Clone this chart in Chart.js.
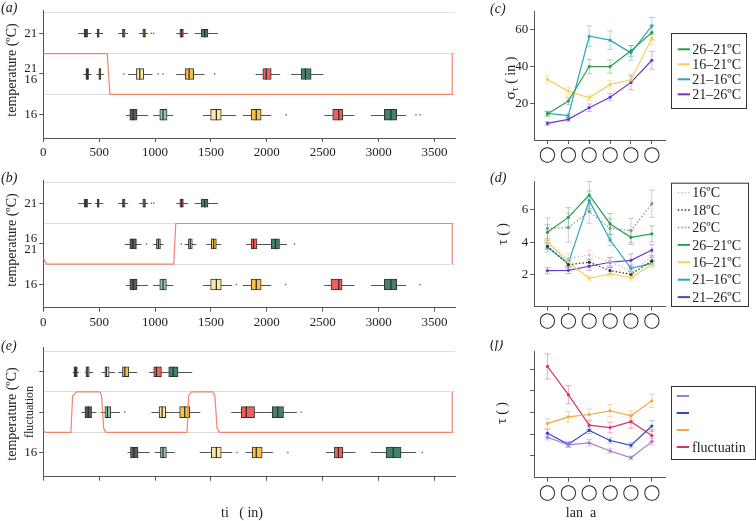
<!DOCTYPE html>
<html>
<head>
<meta charset="utf-8">
<script src="https://cdn.jsdelivr.net/npm/chart.js@4.4.1/dist/chart.umd.min.js"></script>
<style>
    body { margin: 0; background: #fff; }
    #wrap { position: relative; width: 756px; height: 521px; overflow: hidden; }
    canvas { position: absolute; }
</style>
</head>
<body>
<div id="wrap">
    <canvas id="pa" width="480" height="170" style="left:0;top:0"></canvas>
    <canvas id="pb" width="480" height="170" style="left:0;top:170px"></canvas>
    <canvas id="pe" width="480" height="181" style="left:0;top:340px"></canvas>
    <canvas id="pc" width="276" height="170" style="left:480px;top:0"></canvas>
    <canvas id="pd" width="276" height="170" style="left:480px;top:170px"></canvas>
    <canvas id="pf" width="276" height="181" style="left:480px;top:340px"></canvas>
</div>
<script>
// time axis and stage colours
const timeTicks = [0, 500, 1000, 1500, 2000, 2500, 3000, 3500];
const stageColors = ['#5b5b5b', '#8fcaa8', '#fbe6a2', '#f6c145', '#f25e5b', '#457f6d'];

// boxes: [whisker low, q1, median, q3, whisker high]
const aTop = [[312, 365, 381, 396, 431], [461, 482, 491, 500, 536], [670, 708, 720, 732, 759],
    [857, 890, 902, 914, 938], [1190, 1222, 1238, 1253, 1295], [1354, 1414, 1443, 1473, 1562]];
const aTopOut = [967, 988];
const aMid = [[357, 381, 393, 405, 431], [476, 497, 506, 515, 542], [759, 833, 863, 899, 976],
    [1190, 1271, 1304, 1345, 1443], [1899, 1964, 1994, 2039, 2119], [2217, 2307, 2345, 2396, 2506]];
const aMidOut = [720, 1027, 1071, 1533];
const aBot = [[738, 774, 804, 839, 937], [982, 1042, 1071, 1107, 1161], [1429, 1497, 1548, 1592, 1726],
    [1786, 1860, 1905, 1949, 2039], [2515, 2589, 2643, 2679, 2783], [2932, 3051, 3110, 3161, 3245]];
const aBotOut = [2173, 3334, 3370];

const bMid = [[729, 774, 800, 833, 878], [982, 1012, 1030, 1048, 1077], [1265, 1298, 1315, 1333, 1369],
    [1458, 1503, 1524, 1548, 1592], [1815, 1860, 1881, 1911, 1964], [1964, 2039, 2077, 2113, 2179]];
const bMidOut = [923, 1235, 2247];
const bBot = [[738, 774, 804, 839, 937], [982, 1042, 1071, 1101, 1161], [1429, 1497, 1548, 1592, 1690],
    [1786, 1860, 1905, 1949, 2039], [2515, 2574, 2643, 2673, 2783], [2932, 3051, 3110, 3161, 3245]];
const bBotOut = [1726, 2167, 3370];

const eTop = [[262, 274, 289, 304, 318], [372, 381, 393, 411, 446], [521, 551, 565, 589, 640],
    [670, 708, 729, 765, 839], [946, 988, 1012, 1057, 1086], [1071, 1122, 1161, 1205, 1333]];
const eMid = [[342, 372, 402, 432, 476], [512, 551, 574, 604, 685], [967, 1036, 1063, 1095, 1185],
    [1185, 1220, 1265, 1310, 1405], [1682, 1771, 1815, 1890, 1994], [1994, 2048, 2098, 2149, 2268]];
const eMidOut = [729, 2307];
const eBot = [[753, 780, 810, 848, 952], [997, 1048, 1071, 1101, 1176], [1399, 1503, 1548, 1592, 1690],
    [1810, 1869, 1905, 1958, 2054], [2530, 2604, 2640, 2679, 2792], [2932, 3066, 3131, 3200, 3334]];
const eBotOut = [1732, 2188, 3390];

// temperature traces [time, level]
const traceA = [[0, 2.5], [572, 2.5], [596, 1.5], [3658, 1.5], [3658, 2.5]];
const traceB = [[0, 1.65], [30, 1.5], [1167, 1.5], [1185, 2.5], [3658, 2.5], [3658, 1.5]];
const traceE = [[0, 1.53], [25, 1.5], [247, 1.5], [262, 2.4], [298, 2.5], [506, 2.5], [522, 2.4],
    [540, 1.6], [560, 1.5], [1286, 1.5], [1300, 2.4], [1325, 2.5], [1518, 2.5], [1535, 2.4],
    [1555, 1.6], [1578, 1.5], [3658, 1.5], [3658, 2.5]];

// stage panels (c), (d), (f)
const stages = ['◯', '◯', '◯', '◯', '◯', '◯'];
const c26to21 = [14.1, 21.1, 39.8, 39.8, 48.3, 58.2];
const c16to21 = [32.8, 26.5, 22.9, 30.1, 32.6, 55.0];
const c21to16 = [14.4, 13.2, 56.2, 54.1, 47.2, 61.8];
const c21to26 = [9.0, 11.2, 17.5, 23.2, 31.2, 43.2];
const c26to21Err = [1.5, 2, 3.9, 3.6, 3, 4];
const c16to21Err = [2, 2, 1.5, 2, 2, 3.5];
const c21to16Err = [1, 1, 5.6, 5, 4, 4.5];
const c21to26Err = [1, 1, 2, 2, 4, 4.8];

const d16 = [3.9, 3.0, 3.2, 2.8, 2.15, 3.1];
const d18 = [3.75, 2.6, 2.75, 2.23, 2.0, 2.83];
const d26 = [4.86, 4.9, 5.9, 4.86, 4.72, 6.39];
const d26to21 = [4.61, 5.54, 6.93, 5.13, 4.30, 4.51];
const d16to21 = [4.03, 2.75, 1.75, 2.02, 1.79, 2.62];
const d21to16 = [3.68, 2.68, 6.58, 4.13, 2.37, 2.68];
const d21to26 = [2.23, 2.25, 2.50, 2.75, 2.87, 3.51];
const d16Err = [0.3, 0.3, 0.3, 0.25, 0.2, 0.3];
const d18Err = [0.2, 0.2, 0.2, 0.2, 0.2, 0.2];
const d26Err = [0.65, 0.9, 0.72, 0.6, 0.75, 0.85];
const d26to21Err = [0.5, 0.6, 0.85, 0.65, 0.45, 0.5];
const d16to21Err = [0.2, 0.2, 0.15, 0.15, 0.15, 0.2];
const d21to16Err = [0.3, 0.2, 0.6, 0.35, 0.2, 0.15];
const d21to26Err = [0.2, 0.2, 0.25, 0.3, 0.4, 0.35];

const fPurple = [1.86, 1.51, 1.60, 1.23, 0.92, 1.66];
const fBlue = [2.05, 1.54, 2.18, 1.71, 1.49, 2.38];
const fOrange = [2.49, 2.80, 2.91, 3.08, 2.85, 3.54];
const fFluct = [5.12, 3.82, 2.42, 2.31, 2.58, 1.94];
const fPurpleErr = [0.12, 0.12, 0.15, 0.1, 0.08, 0.15];
const fBlueErr = [0.18, 0.12, 0.15, 0.12, 0.12, 0.25];
const fOrangeErr = [0.22, 0.25, 0.25, 0.28, 0.22, 0.3];
const fFluctErr = [0.58, 0.42, 0.2, 0.25, 0.3, 0.27];

(function () {
    "use strict";

    const serif = "'Liberation Serif', 'DejaVu Serif', serif";
    Chart.defaults.font.family = serif;
    Chart.defaults.font.size = 13;
    Chart.defaults.color = '#222';

    // free text, optionally rotated, made of parts [text, size, dy]
    function textPlugin(items) {
        return {
            id: 'texts',
            afterDraw(chart) {
                const ctx = chart.ctx;
                items.forEach(function (it) {
                    const parts = it.parts || [[it.t, it.size || 13, 0]];
                    const style = it.style || '';
                    ctx.save();
                    ctx.translate(it.x, it.y);
                    if (it.rot) ctx.rotate(-Math.PI / 2);
                    ctx.fillStyle = '#222';
                    ctx.textBaseline = 'middle';
                    ctx.textAlign = 'left';
                    let w = 0;
                    parts.forEach(function (p) {
                        ctx.font = style + p[1] + 'px ' + serif;
                        w += ctx.measureText(p[0]).width;
                    });
                    let cx = it.align === 'left' ? 0 : -w / 2;
                    parts.forEach(function (p) {
                        ctx.font = style + p[1] + 'px ' + serif;
                        ctx.fillText(p[0], cx, p[2]);
                        cx += ctx.measureText(p[0]).width;
                    });
                    ctx.restore();
                });
            }
        };
    }

    // framed legend built from the datasets
    function legendPlugin(cfg) {
        return {
            id: 'boxLegend',
            afterDraw(chart) {
                const ctx = chart.ctx;
                ctx.save();
                ctx.strokeStyle = '#333';
                ctx.lineWidth = 1;
                ctx.strokeRect(cfg.box[0] + 0.5, cfg.box[1] + 0.5, cfg.box[2], cfg.box[3]);
                ctx.font = '14px ' + serif;
                ctx.textBaseline = 'middle';
                ctx.fillStyle = '#222';
                chart.data.datasets.forEach(function (ds, i) {
                    const yy = cfg.rows[i];
                    ctx.strokeStyle = ds.borderColor;
                    ctx.lineWidth = ds.borderDash.length ? 1.5 : 2;
                    ctx.setLineDash(ds.borderDash);
                    ctx.beginPath();
                    ctx.moveTo(cfg.lx[0], yy);
                    ctx.lineTo(cfg.lx[1], yy);
                    ctx.stroke();
                    ctx.setLineDash([]);
                    ctx.fillText(ds.label, cfg.tx, yy + 1);
                });
                ctx.restore();
            }
        };
    }

    // whiskers behind the boxes, medians and outliers on top
    const boxPlugin = {
        id: 'boxes',
        beforeDatasetsDraw(chart) {
            const {ctx, scales: {x, y}} = chart;
            ctx.save();
            ctx.strokeStyle = '#555';
            ctx.lineWidth = 1;
            chart.data.datasets.forEach(function (ds) {
                if (!ds.boxes) return;
                const py = Math.round(y.getPixelForValue(ds.row)) + 0.5;
                ds.boxes.forEach(function (b) {
                    ctx.beginPath();
                    ctx.moveTo(x.getPixelForValue(b[0]), py);
                    ctx.lineTo(x.getPixelForValue(b[4]), py);
                    ctx.stroke();
                });
            });
            ctx.restore();
        },
        afterDatasetsDraw(chart) {
            const {ctx, scales: {x, y}} = chart;
            ctx.save();
            chart.data.datasets.forEach(function (ds) {
                if (!ds.boxes) return;
                const py = y.getPixelForValue(ds.row);
                ctx.strokeStyle = '#2a2a2a';
                ctx.lineWidth = 1.2;
                ds.boxes.forEach(function (b) {
                    const px = x.getPixelForValue(b[2]);
                    ctx.beginPath();
                    ctx.moveTo(px, py - ds.h / 2);
                    ctx.lineTo(px, py + ds.h / 2);
                    ctx.stroke();
                });
                ctx.fillStyle = '#666';
                ds.out.forEach(function (o) {
                    ctx.fillRect(x.getPixelForValue(o) - 0.7, py - 0.7, 1.4, 1.4);
                });
            });
            ctx.restore();
        }
    };

    // vertical error bars with caps
    const errPlugin = {
        id: 'errbars',
        beforeDatasetsDraw(chart) {
            const {ctx, scales: {x, y}} = chart;
            ctx.save();
            ctx.lineWidth = 1;
            chart.data.datasets.forEach(function (ds) {
                ctx.strokeStyle = ds.errColor;
                ds.data.forEach(function (p, j) {
                    const px = x.getPixelForValue(p.x);
                    const y1 = y.getPixelForValue(p.y - ds.err[j]);
                    const y2 = y.getPixelForValue(p.y + ds.err[j]);
                    ctx.beginPath();
                    ctx.moveTo(px, y1); ctx.lineTo(px, y2);
                    ctx.moveTo(px - 3, y1); ctx.lineTo(px + 3, y1);
                    ctx.moveTo(px - 3, y2); ctx.lineTo(px + 3, y2);
                    ctx.stroke();
                });
            });
            ctx.restore();
        }
    };

    function row(boxes, out, level, h) {
        return {
            type: 'bar',
            data: boxes.map(b => ({x: [b[1], b[3]], y: level})),
            boxes: boxes, out: out, row: level, h: h,
            backgroundColor: stageColors,
            borderColor: '#333',
            borderWidth: 1,
            borderSkipped: false,
            barThickness: h,
            grouped: false
        };
    }

    // timeline panels (a), (b), (e)
    function timeline(id, rows, trace, tickText, showX, top, xh, yr, texts) {
        const datasets = rows.slice();
        datasets.unshift({
            type: 'line',
            indexAxis: 'x',
            data: trace.map(p => ({x: p[0], y: p[1]})),
            borderColor: '#f2846c',
            borderWidth: 1.2,
            pointRadius: 0,
            fill: false
        });
        return new Chart(document.getElementById(id), {
            type: 'bar',
            data: {datasets: datasets},
            options: {
                indexAxis: 'y',
                responsive: false,
                animation: false,
                devicePixelRatio: 1,
                layout: {padding: {left: 0, right: 25, top: top, bottom: 0}},
                plugins: {legend: {display: false}, tooltip: {enabled: false}},
                scales: {
                    x: {
                        type: 'linear', min: 0, max: 3683, offset: false,
                        afterBuildTicks: s => { s.ticks = timeTicks.map(v => ({value: v})); },
                        afterFit: s => { s.height = xh; },
                        border: {color: '#555'},
                        grid: {drawOnChartArea: false, offset: false, color: '#555', tickLength: 4},
                        ticks: {autoSkip: false, maxRotation: 0, padding: 3, callback: v => showX ? String(v) : ''}
                    },
                    y: {
                        type: 'linear', min: yr[0], max: yr[1], offset: false,
                        afterBuildTicks: s => { s.ticks = [1, 1.5, 2, 2.5, 3, 3.5].map(v => ({value: v})); },
                        afterFit: s => { s.width = 43.3; },
                        border: {color: '#555'},
                        grid: {
                            offset: false, tickLength: 4,
                            color: c => (c.tick && c.tick.value % 1) ? '#dedede' : 'rgba(0,0,0,0)',
                            tickColor: c => (c.tick && c.tick.value % 1) ? 'rgba(0,0,0,0)' : '#555'
                        },
                        ticks: {autoSkip: false, padding: 2, font: {lineHeight: 0.85}, callback: v => tickText[v] || ''}
                    }
                }
            },
            plugins: [boxPlugin, textPlugin(texts)]
        });
    }

    function series(label, values, err, color, errColor, dash) {
        return {
            label: label,
            data: values.map((v, i) => ({x: i, y: v})),
            err: err,
            errColor: errColor,
            borderColor: color,
            backgroundColor: color,
            borderWidth: 1.2,
            borderDash: dash || [],
            pointRadius: 1.6,
            pointBorderWidth: 0,
            tension: 0
        };
    }

    // stage panels (c), (d), (f)
    function stageChart(id, datasets, ymax, yTicks, showY, top, xh, texts, legend) {
        return new Chart(document.getElementById(id), {
            type: 'line',
            data: {datasets: datasets},
            options: {
                responsive: false,
                animation: false,
                devicePixelRatio: 1,
                layout: {padding: {left: 0, right: 91, top: top, bottom: 0}},
                plugins: {legend: {display: false}, tooltip: {enabled: false}},
                scales: {
                    x: {
                        type: 'linear', min: -0.63, max: 5.63,
                        afterBuildTicks: s => { s.ticks = stages.map((_, i) => ({value: i})); },
                        afterFit: s => { s.height = xh; },
                        border: {color: '#555'},
                        grid: {drawOnChartArea: false, color: '#555', tickLength: 4},
                        ticks: {
                            autoSkip: false, maxRotation: 0, padding: 2, color: '#222',
                            font: {family: "'DejaVu Sans', sans-serif", size: 15},
                            callback: v => stages[v]
                        }
                    },
                    y: {
                        type: 'linear', min: 0, max: ymax,
                        afterBuildTicks: s => { s.ticks = yTicks.map(v => ({value: v})); },
                        afterFit: s => { s.width = 54.3; },
                        border: {color: '#555'},
                        grid: {drawOnChartArea: false, color: '#555', tickLength: 4},
                        ticks: {autoSkip: false, padding: 2, callback: v => showY ? String(v) : ''}
                    }
                }
            },
            plugins: [errPlugin, legendPlugin(legend), textPlugin(texts)]
        });
    }

    const pairTicks = {3: '21', 2: ['21', '16'], 1: '16'};
    timeline('pa', [row(aTop, aTopOut, 3, 8), row(aMid, aMidOut, 2, 11), row(aBot, aBotOut, 1, 11)],
        traceA, pairTicks, true, 10, 32, [0.43, 3.57], [
            {t: '(a)', x: 1, y: 8, align: 'left', style: 'italic ', size: 14},
            {t: 'temperature (ºC)', x: 12, y: 70, rot: true, size: 14}
        ]);

    timeline('pb', [row(aTop, aTopOut, 3, 8), row(bMid, bMidOut, 2, 10), row(bBot, bBotOut, 1, 11)],
        traceB, {3: '21', 2: ['16', '21'], 1: '16'}, true, 10, 32.3, [0.43, 3.57], [
            {t: '(b)', x: 1, y: 8, align: 'left', style: 'italic ', size: 14},
            {t: 'temperature (ºC)', x: 12, y: 70, rot: true, size: 14}
        ]);

    timeline('pe', [row(eTop, [], 3, 10), row(eMid, eMidOut, 2, 11), row(eBot, eBotOut, 1, 11)],
        traceE, {1: '16'}, false, 7, 44.3, [0.4, 3.6], [
            {t: '(e)', x: 1, y: 6, align: 'left', style: 'italic ', size: 14},
            {t: 'temperature (ºC)', x: 12, y: 74, rot: true, size: 14},
            {t: 'fluctuation', x: 30, y: 72, rot: true, size: 12},
            {t: 'ti   ( in)', x: 242, y: 173, size: 14}
        ]);

    stageChart('pc', [
        series('26–21ºC', c26to21, c26to21Err, '#2f9e4b', 'rgba(47,158,75,0.4)'),
        series('16–21ºC', c16to21, c16to21Err, '#f1d062', 'rgba(241,208,98,0.5)'),
        series('21–16ºC', c21to16, c21to16Err, '#27a8ba', 'rgba(39,168,186,0.4)'),
        series('21–26ºC', c21to26, c21to26Err, '#6b38c9', 'rgba(107,56,201,0.35)')
    ], 69.5, [20, 40, 60], true, 11.7, 30, [
        {t: '(c)', x: 10, y: 9, align: 'left', style: 'italic ', size: 14},
        {parts: [['σ', 15, 0], ['τ', 10, 4], [' ( in )', 14, 0]], x: 31, y: 78, rot: true}
    ], {box: [191, 33, 75, 75], rows: [49.3, 64.3, 79.3, 94.3], lx: [197.7, 210], tx: 212.3});

    stageChart('pd', [
        series('16ºC', d16, d16Err, '#c4c4c4', 'rgba(200,200,200,0.5)', [1.5, 2]),
        series('18ºC', d18, d18Err, '#333333', 'rgba(80,80,80,0.35)', [1.5, 2]),
        series('26ºC', d26, d26Err, '#8f8f8f', 'rgba(150,150,150,0.45)', [1.5, 2]),
        series('26–21ºC', d26to21, d26to21Err, '#2f9e4b', 'rgba(47,158,75,0.4)'),
        series('16–21ºC', d16to21, d16to21Err, '#f1d062', 'rgba(241,208,98,0.5)'),
        series('21–16ºC', d21to16, d21to16Err, '#27a8ba', 'rgba(39,168,186,0.4)'),
        series('21–26ºC', d21to26, d21to26Err, '#6b38c9', 'rgba(107,56,201,0.35)')
    ], 7.8, [2, 4, 6], true, 11, 33.5, [
        {t: '(d)', x: 10, y: 8, align: 'left', style: 'italic ', size: 14},
        {parts: [['τ', 14, 0], [' ( )', 14, 0]], x: 23, y: 64, rot: true}
    ], {box: [191, 12.7, 77, 123.3], rows: [22.7, 40.1, 57.5, 74.9, 92.3, 109.7, 127.1], lx: [197.7, 210], tx: 212.3});

    stageChart('pf', [
        series('', fPurple, fPurpleErr, '#a57bd2', 'rgba(165,123,210,0.4)'),
        series('', fBlue, fBlueErr, '#3747c9', 'rgba(55,71,201,0.3)'),
        series('', fOrange, fOrangeErr, '#f4a741', 'rgba(244,167,65,0.45)'),
        series('fluctuatin', fFluct, fFluctErr, '#d9336b', 'rgba(217,51,107,0.4)')
    ], 5.8, [1, 2, 3, 4, 5], false, 11.7, 43.3, [
        {t: '(f)', x: 10, y: 4, align: 'left', style: 'italic ', size: 14},
        {parts: [['τ', 14, 0], [' ( )', 14, 0]], x: 22, y: 73, rot: true},
        {t: 'lan  a', x: 101, y: 173, size: 14}
    ], {box: [191, 46, 84, 73], rows: [56, 73, 90, 107], lx: [196.7, 209], tx: 212});

})();
</script>
</body>
</html>
